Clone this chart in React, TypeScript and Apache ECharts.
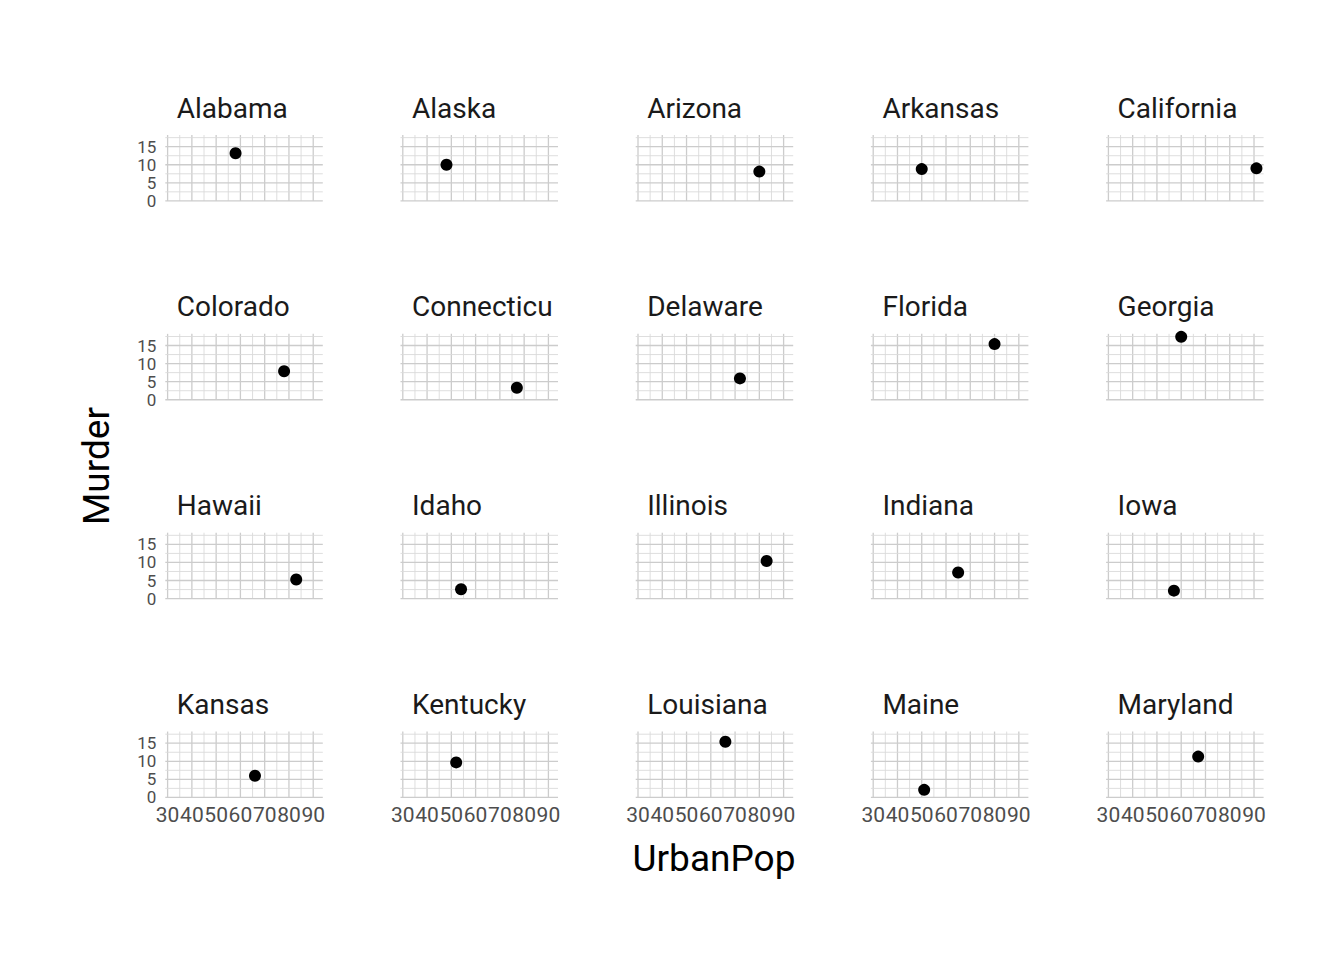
import React, { useEffect, useRef } from "react";
import * as echarts from "echarts";

const states = [
  "Alabama", "Alaska", "Arizona", "Arkansas", "California",
  "Colorado", "Connecticut", "Delaware", "Florida", "Georgia",
  "Hawaii", "Idaho", "Illinois", "Indiana", "Iowa",
  "Kansas", "Kentucky", "Louisiana", "Maine", "Maryland",
];
const urbanPop = [58, 48, 80, 50, 91, 78, 77, 72, 80, 60, 83, 54, 83, 65, 57, 66, 52, 66, 51, 67];
const murder = [13.2, 10.0, 8.1, 8.8, 9.0, 7.9, 3.3, 5.9, 15.4, 17.4, 5.3, 2.6, 10.4, 7.2, 2.2, 6.0, 9.7, 15.4, 2.1, 11.3];

const xTicks = [30, 40, 50, 60, 70, 80, 90];
const xMinor = [35, 45, 55, 65, 75, 85];
const yTicks = [0, 5, 10, 15];
const yMinor = [2.5, 7.5, 12.5, 17.5];

const X_MIN = 29.05;
const X_MAX = 93.95;
const Y_MIN = -0.03;
const Y_MAX = 18.23;

const NCOL = 5;
const NROW = 4;
const LEFT0 = 165.3;
const COL_STEP = 235.2;
const PW = 157.5;
const TOP0 = 135;
const ROW_STEP = 198.85;
const PH = 66;

const FONT = "Roboto, 'Noto Sans', sans-serif";

export default function App() {
  const ref = useRef<HTMLDivElement>(null);
  useEffect(() => {
    document.body.style.margin = "0";
    if (!ref.current) return;
    const chart = echarts.init(ref.current, null, { renderer: "svg" });

    const grids: any[] = [];
    const xAxes: any[] = [];
    const yAxes: any[] = [];
    const series: any[] = [];
    const graphics: any[] = [];

    const gridData: number[][] = [];
    xTicks.forEach((v) => gridData.push([v, 5, 0]));
    xMinor.forEach((v) => gridData.push([v, 5, 1]));
    yTicks.forEach((v) => gridData.push([50, v, 2]));
    yMinor.forEach((v) => gridData.push([50, v, 3]));

    states.forEach((name, i) => {
      const c = i % NCOL;
      const r = Math.floor(i / NCOL);
      const left = LEFT0 + c * COL_STEP;
      const top = TOP0 + r * ROW_STEP;
      grids.push({ left, top, width: PW, height: PH, containLabel: false });
      xAxes.push({
        type: "value",
        gridIndex: i,
        min: X_MIN,
        max: X_MAX,
        axisLine: { show: false },
        axisTick: { show: false },
        splitLine: { show: false },
        axisLabel: {
          show: r === NROW - 1,
          customValues: xTicks,
          showMinLabel: true,
          showMaxLabel: true,
          fontSize: 21,
          fontFamily: FONT,
          color: "#4d4d4d",
          margin: 7,
          hideOverlap: false,
        },
      });
      yAxes.push({
        type: "value",
        gridIndex: i,
        min: Y_MIN,
        max: Y_MAX,
        axisLine: { show: false },
        axisTick: { show: false },
        splitLine: { show: false },
        axisLabel: {
          show: c === 0,
          customValues: yTicks,
          showMinLabel: true,
          showMaxLabel: true,
          fontSize: 17,
          lineHeight: 16,
          fontFamily: FONT,
          color: "#4d4d4d",
          margin: 9,
          hideOverlap: false,
        },
      });
      series.push({
        type: "custom",
        xAxisIndex: i,
        yAxisIndex: i,
        z: 1,
        silent: true,
        data: gridData,
        renderItem: (params: any, api: any) => {
          const xv = api.value(0);
          const yv = api.value(1);
          const k = api.value(2);
          let p1, p2;
          if (k < 2) {
            p1 = api.coord([xv, Y_MIN]);
            p2 = api.coord([xv, Y_MAX]);
          } else {
            p1 = api.coord([X_MIN, yv]);
            p2 = api.coord([X_MAX, yv]);
          }
          const major = k === 0 || k === 2;
          return {
            type: "line",
            shape: { x1: p1[0], y1: p1[1], x2: p2[0], y2: p2[1] },
            style: {
              stroke: major ? "#cccccc" : "#dadada",
              lineWidth: major ? 1.3 : 0.9,
            },
          };
        },
      });
      series.push({
        type: "scatter",
        xAxisIndex: i,
        yAxisIndex: i,
        z: 3,
        symbolSize: 12,
        itemStyle: { color: "#000000", opacity: 1 },
        data: [[urbanPop[i], murder[i]]],
      });
      graphics.push({
        type: "text",
        x: left + 11.5,
        y: top - 27,
        style: {
          text: name,
          fontSize: 28,
          fontFamily: FONT,
          fill: "#1a1a1a",
          verticalAlign: "middle",
          align: "left",
          width: PW - 11.5,
          overflow: "truncate",
          ellipsis: "",
        },
      });
    });

    graphics.push({
      type: "text",
      x: 714,
      y: 858,
      style: {
        text: "UrbanPop",
        fontSize: 37,
        fontFamily: FONT,
        fill: "#000000",
        align: "center",
        verticalAlign: "middle",
      },
    });
    graphics.push({
      type: "text",
      x: 96,
      y: 466,
      rotation: Math.PI / 2,
      style: {
        text: "Murder",
        fontSize: 37,
        fontFamily: FONT,
        fill: "#000000",
        align: "center",
        verticalAlign: "middle",
      },
    });

    chart.setOption({
      animation: false,
      backgroundColor: "#ffffff",
      grid: grids,
      xAxis: xAxes,
      yAxis: yAxes,
      series,
      graphic: graphics,
    });
    return () => chart.dispose();
  }, []);
  return <div ref={ref} style={{ width: 1344, height: 960 }} />;
}
